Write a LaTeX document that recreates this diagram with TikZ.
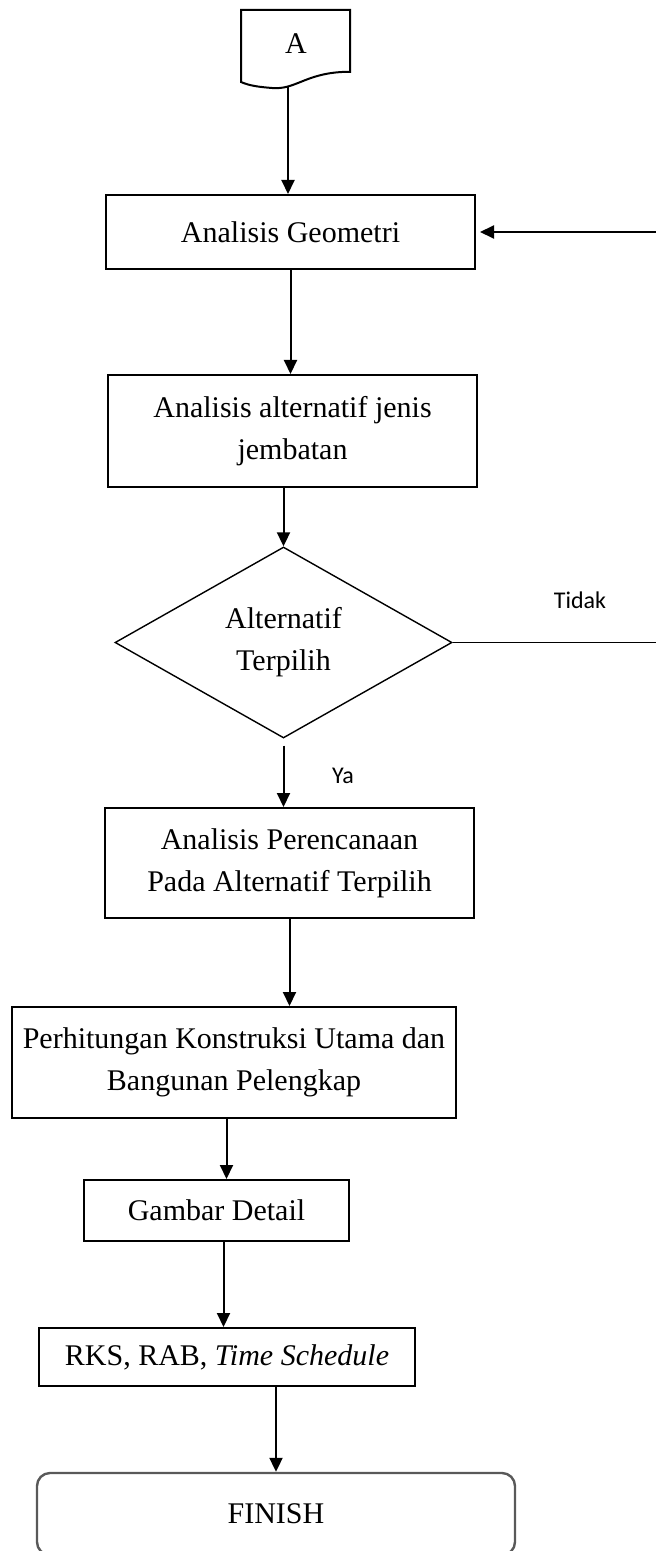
\documentclass[tikz,border=0pt]{standalone}
\usepackage{fontspec}
\setmainfont{Liberation Serif}
\newfontfamily\labelfont{Carlito}
\usetikzlibrary{arrows.meta,shapes.geometric,positioning,calc}

\begin{document}
\begin{tikzpicture}[x=0.5pt,y=-0.5pt,line width=1pt,font=\fontsize{15}{21}\selectfont,
  box/.style={draw,align=center,inner sep=0pt},
  choice/.style={draw,diamond,align=center,inner sep=0pt,line width=0.7pt},
  endbox/.style={draw=black!65,rounded corners=6.5pt,line width=1.2pt,inner sep=0pt},
  lbl/.style={font=\labelfont\fontsize{12}{14}\selectfont},
  >={Triangle[length=7pt,width=6.5pt]}]
\useasboundingbox (0,0) rectangle (656,1551);
\draw (241,10) -- (350,10) -- (350,72) -- (342,72) .. controls (305,74) and (295,90) .. (272,88) .. controls (260,87) and (250,86) .. (241,82) -- cycle;
\node (start) at (296,44) {A};
\coordinate (startend) at (288,87);
\node[box,minimum width=184.5pt,minimum height=37pt] (geo) at (290.5,232) {Analisis Geometri};
\node[box,minimum width=184.5pt,minimum height=56pt] (alt) at (292.5,431) {Analisis alternatif jenis\\jembatan};
\node[choice,minimum width=168.5pt,minimum height=95.5pt] (dec) at (283.5,642.5) {Alternatif\\Terpilih};
\node[box,minimum width=184.5pt,minimum height=55pt] (plan) at (289.5,863) {Analisis Perencanaan\\Pada Alternatif Terpilih};
\node[box,minimum width=222pt,minimum height=55.5pt] (calc) at (234,1062.5) {Perhitungan Konstruksi Utama dan\\Bangunan Pelengkap};
\node[box,minimum width=132.5pt,minimum height=30.5pt] (draw) at (216.5,1210.5) {Gambar Detail};
\node[box,minimum width=188pt,minimum height=29pt] (rks) at (227,1357) {RKS, RAB, \textit{Time Schedule}};
\node[endbox,minimum width=239pt,minimum height=41pt] (finish) at (276,1514) {FINISH};
\node[lbl] (no) at (580,600) {Tidak};
\node[lbl] (yes) at (343,776) {Ya};
\coordinate (loop) at (662,642.5);
\draw[->] (startend) -- (startend |- geo.north);
\draw[->] (geo.south) -- (geo.south |- alt.north);
\draw[->] (dec.north |- alt.south) -- (dec.north);
\draw[->,shorten <=3.5pt] (dec.south) -- (dec.south |- plan.north);
\draw[->] (plan.south) -- (plan.south |- calc.north);
\draw[->] ([xshift=5pt]draw.north |- calc.south) -- ([xshift=5pt]draw.north);
\draw[->] ([xshift=3.5pt]draw.south) -- ([xshift=3.5pt]draw.south |- rks.north);
\draw[->] (finish.north |- rks.south) -- (finish.north);
\draw[line width=0.7pt] (dec.east) -- (loop);
\draw[->,shorten >=2pt] (loop) |- (geo.east);
\end{tikzpicture}
\end{document}
